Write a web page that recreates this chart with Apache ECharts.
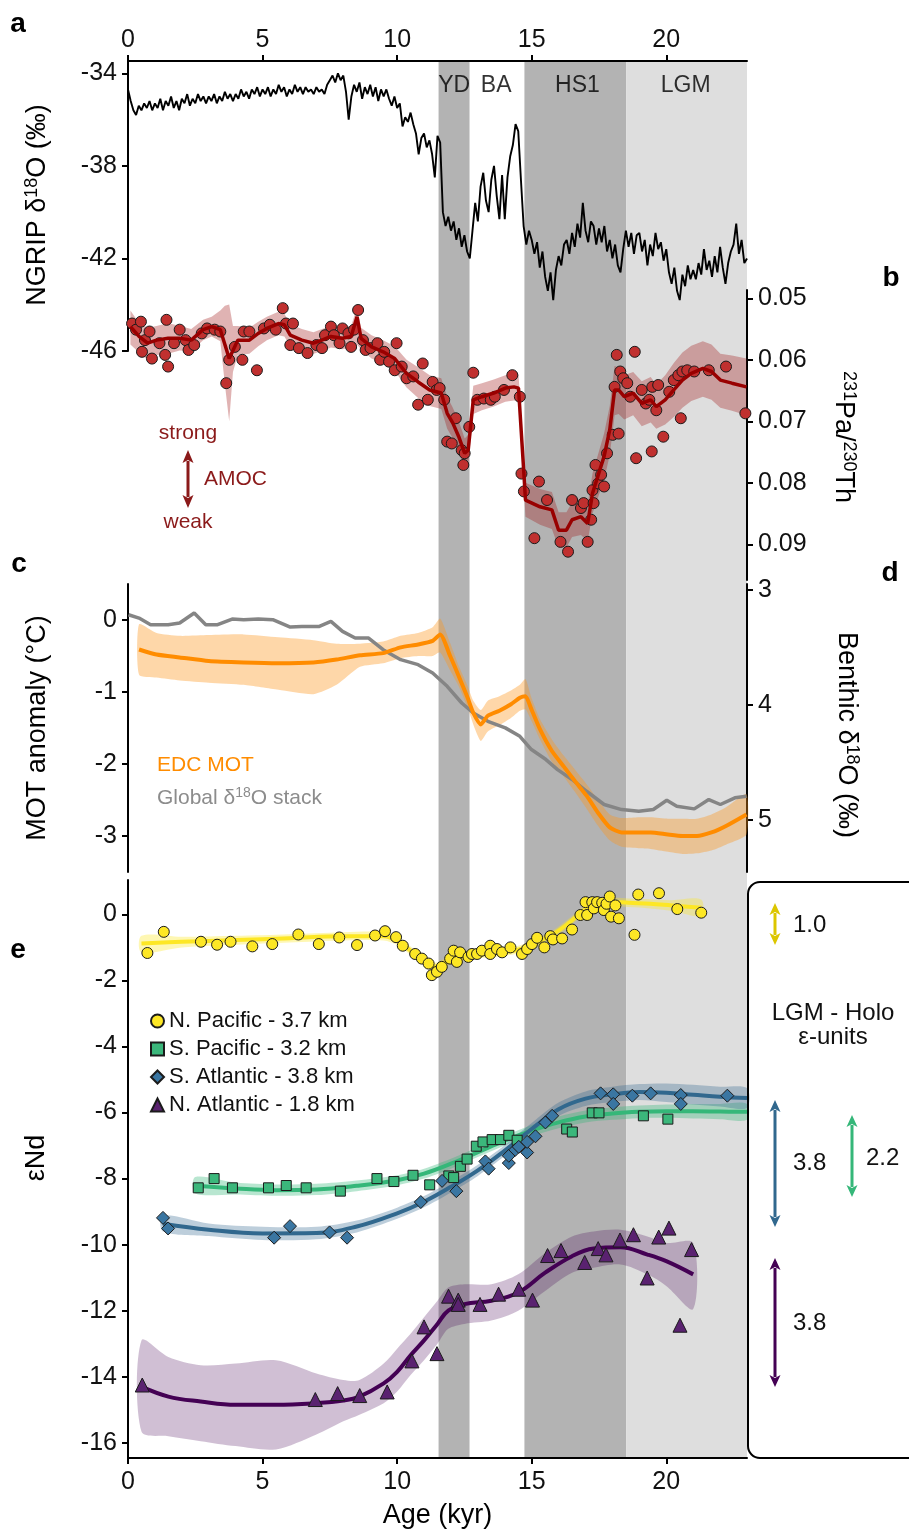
<!DOCTYPE html>
<html><head><meta charset="utf-8">
<script src="https://cdn.jsdelivr.net/npm/echarts@6/dist/echarts.min.js"></script>
<style>html,body{margin:0;padding:0;background:#fff}#c{width:909px;height:1534px}</style>
</head><body><div id="c"></div>
<script>
// ---------------- DATA ----------------
const xTicks = [0, 5, 10, 15, 20];
const ngripTicks = [-46, -42, -38, -34];
const paThTicks = [0.05, 0.06, 0.07, 0.08, 0.09];
const motTicks = [-3, -2, -1, 0];
const benthicTicks = [3, 4, 5];
const endTicks = [-16, -14, -12, -10, -8, -6, -4, -2, 0];

const zoneNames = ['YD', 'HS1', 'LGM'];
const zoneStart = [11.54, 14.73, 18.51];
const zoneEnd = [12.69, 18.51, 23.0];
const zoneLabelText = ['YD', 'BA', 'HS1', 'LGM'];
const zoneLabelAge = [12.12, 13.68, 16.70, 20.72];

// NGRIP d18O, sampled every 0.1 kyr from 0 kyr
const ngripStart = 0, ngripStep = 0.1;
const ngripVal = [
 -34.7,-35.2,-35.6,-35.8,-35.4,-35.6,-35.3,-35.5,-35.2,-35.6,
 -35.3,-35.5,-35.1,-35.6,-35.2,-35.4,-35.0,-35.5,-35.2,-35.6,
 -35.1,-35.3,-34.9,-35.4,-35.1,-35.3,-34.9,-35.2,-35.0,-35.3,
 -35.0,-35.2,-34.9,-35.3,-35.0,-35.2,-34.8,-35.1,-34.9,-35.2,
 -34.9,-35.1,-34.7,-35.0,-34.8,-35.1,-34.7,-34.9,-34.6,-35.0,
 -34.7,-34.9,-34.6,-35.0,-34.7,-34.9,-34.5,-34.8,-34.6,-35.0,
 -34.7,-34.9,-34.5,-34.8,-34.6,-34.9,-34.6,-34.8,-34.7,-34.9,
 -34.6,-34.8,-34.7,-34.9,-34.5,-34.3,-34.1,-34.4,-34.0,-34.3,
 -34.1,-34.8,-36.0,-35.0,-34.5,-34.8,-34.4,-35.1,-34.6,-34.9,
 -34.5,-35.0,-34.6,-35.2,-34.7,-35.0,-34.7,-35.1,-35.4,-35.0,
 -35.5,-35.3,-36.3,-35.9,-36.1,-35.7,-36.2,-36.6,-37.5,-36.8,
 -36.6,-37.2,-36.9,-37.5,-38.5,-36.7,-37.0,-40.0,-40.6,-40.2,
 -40.8,-40.4,-41.2,-40.7,-41.5,-41.0,-41.7,-42.0,-40.8,-39.6,
 -40.4,-38.9,-38.3,-39.5,-40.0,-38.6,-38.0,-39.3,-40.3,-38.4,
 -40.3,-38.5,-37.6,-37.1,-36.2,-36.5,-38.6,-40.6,-41.4,-40.8,
 -41.2,-41.8,-41.3,-42.4,-41.7,-42.8,-43.4,-42.6,-43.8,-42.5,
 -41.9,-42.3,-41.4,-41.2,-41.8,-40.9,-41.5,-40.5,-41.1,-39.6,
 -40.8,-41.3,-40.4,-40.6,-41.4,-40.7,-41.3,-40.6,-41.7,-41.2,
 -42.0,-41.4,-42.3,-42.6,-41.6,-40.8,-41.5,-40.9,-41.8,-41.0,
 -40.9,-41.7,-41.2,-42.3,-41.4,-41.9,-40.9,-41.6,-41.3,-42.1,
 -41.6,-42.6,-43.1,-42.4,-43.4,-43.8,-42.7,-43.2,-42.3,-42.9,
 -42.5,-42.9,-42.2,-42.7,-41.6,-42.5,-42.1,-42.8,-41.9,-42.6,
 -41.5,-42.4,-43.1,-42.2,-41.7,-41.4,-40.5,-41.8,-41.2,-42.2,
 -42.0];

// 231Pa/230Th measurements
const paAge = [0.15,0.30,0.48,0.52,0.63,0.80,0.89,1.17,1.38,1.43,1.49,1.71,1.92,2.14,2.25,2.46,2.74,2.94,3.22,3.43,3.65,3.76,3.97,4.25,4.30,4.51,4.79,5.05,5.27,5.49,5.75,5.87,6.03,6.13,6.35,6.67,7.00,7.21,7.32,7.54,7.65,7.86,7.97,8.19,8.29,8.40,8.55,8.73,8.83,9.01,9.27,9.37,9.52,9.70,9.91,9.98,10.17,10.35,10.60,10.78,10.95,11.14,11.32,11.47,11.58,11.75,11.86,12.03,12.18,12.40,12.46,12.51,12.68,12.83,12.98,13.22,13.48,13.63,13.97,14.28,14.56,14.62,14.71,15.10,15.27,15.57,16.07,16.35,16.50,16.83,16.93,17.08,17.21,17.26,17.30,17.37,17.47,17.58,17.69,17.80,18.01,18.08,18.16,18.23,18.29,18.40,18.55,18.66,18.83,18.88,19.09,19.24,19.37,19.46,19.48,19.63,19.70,19.89,20.11,20.28,20.45,20.54,20.60,20.78,21.04,21.58,22.22,22.94];
const paVal = [0.0541,0.0551,0.0538,0.0587,0.0568,0.0554,0.0598,0.0573,0.0592,0.0535,0.0611,0.0573,0.0551,0.0568,0.0584,0.0576,0.0557,0.0549,0.0551,0.0554,0.0638,0.0600,0.0579,0.0600,0.0554,0.0554,0.0617,0.0549,0.0543,0.0551,0.0516,0.0541,0.0576,0.0541,0.0581,0.0589,0.0576,0.0581,0.0560,0.0546,0.0560,0.0573,0.0549,0.0557,0.0579,0.0551,0.0519,0.0568,0.0584,0.0581,0.0573,0.0600,0.0587,0.0603,0.0617,0.0573,0.0611,0.0630,0.0627,0.0673,0.0606,0.0665,0.0636,0.0649,0.0646,0.0665,0.0733,0.0736,0.0695,0.0747,0.0771,0.0752,0.0709,0.0621,0.0665,0.0663,0.0665,0.0660,0.0649,0.0625,0.0660,0.0785,0.0814,0.0890,0.0798,0.0828,0.0896,0.0912,0.0828,0.0841,0.0833,0.0896,0.0860,0.0812,0.0833,0.0771,0.0801,0.0787,0.0806,0.0752,0.0722,0.0644,0.0592,0.0720,0.0619,0.0630,0.0638,0.0660,0.0587,0.0760,0.0649,0.0671,0.0665,0.0749,0.0644,0.0682,0.0641,0.0725,0.0652,0.0633,0.0625,0.0695,0.0619,0.0617,0.0619,0.0617,0.0611,0.0687];
// Pa/Th smoothed curve and envelope
const paLineAge = [0.09,0.41,0.73,1.06,1.49,1.92,2.35,2.79,3.11,3.43,3.60,3.76,3.90,4.08,4.51,4.84,5.16,5.59,5.81,6.03,6.46,6.89,7.21,7.54,7.97,8.29,8.51,8.66,9.05,9.48,9.91,10.35,10.78,11.21,11.64,11.86,12.07,12.29,12.51,12.64,12.83,13.15,13.59,14.02,14.34,14.51,14.67,14.77,15.31,15.75,16.00,16.29,16.50,16.83,17.08,17.26,17.69,17.90,18.08,18.23,18.44,18.77,19.09,19.42,19.63,19.96,20.28,20.60,20.93,21.36,21.68,22.01,22.44,22.98];
const paLineVal = [0.0546,0.0562,0.0573,0.0568,0.0565,0.0565,0.0568,0.0551,0.0546,0.0551,0.0575,0.0598,0.0585,0.0568,0.0568,0.0557,0.0549,0.0541,0.0543,0.0560,0.0568,0.0573,0.0568,0.0562,0.0565,0.0562,0.0530,0.0565,0.0579,0.0587,0.0598,0.0622,0.0636,0.0649,0.0654,0.0687,0.0703,0.0725,0.0752,0.0747,0.0665,0.0660,0.0654,0.0646,0.0644,0.0646,0.0757,0.0828,0.0839,0.0844,0.0877,0.0877,0.0860,0.0855,0.0866,0.0817,0.0757,0.0714,0.0649,0.0649,0.0660,0.0654,0.0671,0.0665,0.0676,0.0665,0.0649,0.0633,0.0622,0.0614,0.0619,0.0633,0.0638,0.0644];
const paBandLo = [0.0520,0.0540,0.0548,0.0545,0.0540,0.0545,0.0550,0.0535,0.0530,0.0520,0.0512,0.0510,0.0545,0.0545,0.0548,0.0538,0.0530,0.0522,0.0525,0.0542,0.0550,0.0555,0.0550,0.0545,0.0547,0.0545,0.0515,0.0548,0.0560,0.0568,0.0578,0.0600,0.0612,0.0625,0.0630,0.0660,0.0678,0.0700,0.0728,0.0722,0.0642,0.0638,0.0632,0.0625,0.0622,0.0624,0.0730,0.0800,0.0810,0.0815,0.0848,0.0848,0.0832,0.0825,0.0835,0.0785,0.0720,0.0675,0.0610,0.0612,0.0625,0.0620,0.0635,0.0628,0.0640,0.0625,0.0605,0.0588,0.0577,0.0570,0.0575,0.0590,0.0593,0.0598];
const paBandHi = [0.0575,0.0588,0.0600,0.0592,0.0590,0.0585,0.0586,0.0568,0.0562,0.0570,0.0640,0.0700,0.0620,0.0592,0.0590,0.0578,0.0568,0.0560,0.0562,0.0578,0.0586,0.0590,0.0586,0.0580,0.0583,0.0580,0.0575,0.0583,0.0598,0.0606,0.0618,0.0645,0.0662,0.0675,0.0680,0.0712,0.0728,0.0750,0.0776,0.0770,0.0688,0.0682,0.0676,0.0668,0.0666,0.0668,0.0785,0.0855,0.0868,0.0875,0.0905,0.0905,0.0888,0.0885,0.0895,0.0850,0.0795,0.0755,0.0690,0.0688,0.0697,0.0690,0.0708,0.0702,0.0712,0.0705,0.0693,0.0678,0.0667,0.0660,0.0665,0.0678,0.0683,0.0690];

// EDC mean ocean temperature (MOT) and envelope
const motAge = [0.41,1.06,1.92,3.00,4.30,5.59,6.89,7.75,8.62,9.48,10.13,10.78,11.32,11.60,11.97,12.29,12.62,12.83,13.11,13.37,13.80,14.23,14.56,14.77,14.99,15.31,15.75,16.18,16.61,17.04,17.47,17.90,18.34,18.98,19.42,20.06,20.60,21.14,21.68,22.22,22.98];
const motVal = [-0.41,-0.48,-0.52,-0.57,-0.59,-0.60,-0.59,-0.55,-0.49,-0.46,-0.38,-0.34,-0.29,-0.20,-0.50,-0.78,-1.08,-1.29,-1.45,-1.33,-1.26,-1.17,-1.08,-1.06,-1.24,-1.52,-1.82,-2.03,-2.24,-2.44,-2.68,-2.88,-2.95,-2.95,-2.95,-2.98,-3.00,-3.00,-2.95,-2.86,-2.70];
const motLo = [-0.76,-0.80,-0.84,-0.87,-0.90,-0.97,-1.03,-0.90,-0.65,-0.60,-0.53,-0.50,-0.50,-0.45,-0.70,-0.92,-1.22,-1.45,-1.68,-1.55,-1.46,-1.36,-1.26,-1.24,-1.40,-1.66,-1.97,-2.17,-2.39,-2.62,-2.86,-3.06,-3.15,-3.17,-3.18,-3.22,-3.25,-3.24,-3.20,-3.12,-2.98];
const motHi = [-0.06,-0.18,-0.22,-0.21,-0.20,-0.24,-0.28,-0.33,-0.33,-0.30,-0.22,-0.18,-0.10,0.02,-0.32,-0.64,-0.92,-1.12,-1.25,-1.12,-1.06,-0.98,-0.90,-0.82,-1.08,-1.38,-1.66,-1.88,-2.08,-2.28,-2.50,-2.70,-2.75,-2.74,-2.74,-2.76,-2.76,-2.76,-2.70,-2.60,-2.42];

// Global benthic d18O stack
const benthicAge = [0.02,0.41,0.84,1.49,1.92,2.46,2.89,3.33,3.87,4.30,4.84,5.38,6.03,6.46,7.11,7.54,7.97,8.44,8.94,9.48,10.13,10.78,11.32,11.86,12.40,12.83,13.37,14.02,14.56,14.99,15.53,15.96,16.50,17.04,17.69,18.34,18.98,19.52,20.02,20.39,21.04,21.58,22.01,22.55,22.98];
const benthicVal = [3.217,3.246,3.303,3.303,3.289,3.202,3.303,3.303,3.254,3.260,3.254,3.260,3.324,3.318,3.318,3.275,3.361,3.419,3.419,3.520,3.607,3.650,3.723,3.838,3.983,4.069,4.142,4.199,4.272,4.387,4.474,4.561,4.647,4.749,4.864,4.908,4.922,4.908,4.827,4.879,4.902,4.821,4.864,4.806,4.792];

// eNd: N. Pacific 3.7 km
const npAge = [0.72,1.33,2.71,3.31,3.81,4.62,5.36,6.33,7.09,7.85,8.51,9.18,9.55,9.96,10.21,10.67,10.92,11.17,11.29,11.48,11.66,11.97,12.10,12.22,12.34,12.65,12.78,12.97,13.15,13.46,13.46,13.71,13.90,14.21,14.64,14.83,15.01,15.20,15.47,15.69,15.79,16.13,16.50,16.81,17.00,17.06,17.25,17.31,17.43,17.62,17.68,17.78,17.90,17.95,18.11,18.24,18.82,18.96,19.73,20.41,21.30];
const npVal = [-1.17,-0.53,-0.83,-0.92,-0.83,-0.97,-0.90,-0.61,-0.90,-0.70,-0.93,-0.64,-0.51,-0.69,-0.95,-1.20,-1.34,-1.49,-1.84,-1.74,-1.59,-1.34,-1.10,-1.44,-1.15,-1.29,-1.20,-1.20,-1.10,-0.95,-1.20,-1.05,-1.15,-1.00,-1.20,-1.05,-0.90,-0.71,-1.00,-0.66,-0.76,-0.73,-0.46,-0.02,0.37,-0.02,0.37,0.18,0.37,0.35,0.13,0.32,0.54,-0.07,0.27,-0.12,-0.62,0.60,0.64,0.16,0.05];
const npFitAge = [0.5,2,4,6,8,9.5,10,10.5,11,11.4,11.8,12.3,13,14,14.6,15.2,15.8,16.4,16.9,17.4,18,18.6,19.4,20.2,21.3];
const npFit = [-0.88,-0.83,-0.78,-0.72,-0.66,-0.66,-0.80,-1.10,-1.40,-1.58,-1.45,-1.30,-1.22,-1.14,-1.05,-0.85,-0.60,-0.25,0.10,0.30,0.38,0.35,0.32,0.27,0.20];
const npLo = [-1.15,-1.00,-0.92,-0.85,-0.79,-0.79,-0.93,-1.23,-1.52,-1.70,-1.57,-1.42,-1.33,-1.25,-1.17,-0.97,-0.72,-0.38,-0.03,0.17,0.25,0.22,0.18,0.11,-0.05];
const npHi = [-0.65,-0.68,-0.65,-0.60,-0.54,-0.53,-0.67,-0.97,-1.27,-1.46,-1.33,-1.19,-1.11,-1.03,-0.93,-0.73,-0.48,-0.12,0.23,0.43,0.50,0.48,0.46,0.43,0.45];

// eNd: S. Pacific 3.2 km
const spAge = [2.61,3.20,3.88,5.22,5.88,6.62,7.89,9.25,9.88,10.59,11.21,11.92,12.10,12.35,12.60,12.94,13.19,13.53,13.84,14.15,14.46,16.30,16.51,17.25,17.50,19.15,20.06];
const spVal = [-8.28,-8.00,-8.28,-8.28,-8.21,-8.28,-8.38,-8.00,-8.09,-7.90,-8.19,-7.92,-7.97,-7.63,-7.41,-7.02,-6.89,-6.82,-6.82,-6.69,-6.84,-6.50,-6.59,-6.01,-6.01,-6.10,-6.20];
const spFitAge = [2.5,4,5.5,7,8.5,10,11,12,13,14,15,16,17,18,19,20,21,22,23];
const spFit = [-8.22,-8.30,-8.35,-8.33,-8.22,-8.05,-7.85,-7.55,-7.20,-6.85,-6.55,-6.30,-6.12,-6.03,-5.98,-5.96,-5.96,-5.97,-5.98];
const spLo = [-8.45,-8.48,-8.52,-8.50,-8.38,-8.20,-8.00,-7.70,-7.35,-7.00,-6.72,-6.48,-6.30,-6.22,-6.17,-6.16,-6.18,-6.20,-6.22];
const spHi = [-7.95,-8.12,-8.18,-8.16,-8.06,-7.90,-7.70,-7.40,-7.05,-6.70,-6.38,-6.12,-5.94,-5.84,-5.79,-5.76,-5.74,-5.74,-5.74];

// eNd: S. Atlantic 3.8 km
const saAge = [1.30,1.49,5.43,6.02,7.49,8.14,10.88,11.67,12.20,13.28,13.40,14.15,14.15,14.39,14.52,14.83,14.83,15.14,15.51,15.76,17.56,18.03,18.03,18.74,19.42,20.54,20.54,22.27];
const saVal = [-9.19,-9.51,-9.79,-9.44,-9.63,-9.79,-8.71,-8.07,-8.38,-7.48,-7.70,-7.53,-7.31,-7.13,-7.04,-7.21,-6.89,-6.72,-6.30,-6.10,-5.42,-5.45,-5.74,-5.49,-5.42,-5.47,-5.74,-5.49];
const saFitAge = [1.3,3,5,7,8.5,10,11,12,13,14,15,16,17,18,19,20,21,22,23];
const saFit = [-9.37,-9.55,-9.66,-9.65,-9.45,-9.05,-8.70,-8.25,-7.75,-7.15,-6.50,-5.90,-5.58,-5.45,-5.38,-5.40,-5.46,-5.52,-5.56];
const saLo = [-9.60,-9.74,-9.86,-9.84,-9.63,-9.22,-8.87,-8.42,-7.92,-7.32,-6.68,-6.10,-5.80,-5.68,-5.62,-5.68,-5.76,-5.82,-5.86];
const saHi = [-9.12,-9.36,-9.46,-9.46,-9.27,-8.88,-8.53,-8.08,-7.58,-6.98,-6.32,-5.70,-5.36,-5.22,-5.14,-5.12,-5.16,-5.22,-5.26];

// eNd: N. Atlantic 1.8 km
const naAge = [0.53,6.96,7.79,8.61,9.63,10.55,11.00,11.48,11.91,12.27,12.27,13.08,13.77,14.52,15.03,15.59,16.09,16.97,17.47,17.76,18.28,18.78,19.29,19.72,20.10,20.51,20.94];
const naVal = [-14.25,-14.69,-14.51,-14.57,-14.46,-13.52,-12.49,-13.30,-11.56,-11.68,-11.81,-11.81,-11.50,-11.35,-11.68,-10.33,-10.18,-10.54,-10.12,-10.31,-9.86,-9.70,-11.01,-9.77,-9.50,-12.44,-10.15];
const naFitAge = [0.5,1.5,2.7,4,5.5,7,8,8.6,9.5,10,10.5,11,11.5,11.9,12.5,13.5,14.5,15.5,16.5,17.3,18.3,19.3,20,21];
const naFit = [-14.30,-14.60,-14.75,-14.85,-14.85,-14.80,-14.72,-14.60,-14.20,-13.85,-13.35,-12.90,-12.40,-12.00,-11.80,-11.70,-11.45,-10.85,-10.35,-10.12,-10.08,-10.30,-10.50,-10.90];
const naLo = [-15.66,-15.80,-15.95,-16.10,-16.20,-15.75,-15.35,-15.15,-14.80,-14.45,-13.95,-13.50,-13.00,-12.55,-12.40,-12.30,-12.00,-11.40,-10.85,-10.70,-10.60,-10.90,-11.25,-11.95];
const naHi = [-12.90,-13.40,-13.65,-13.60,-13.50,-13.90,-14.10,-14.10,-13.60,-13.15,-12.70,-12.20,-11.70,-11.30,-11.20,-11.20,-10.90,-10.25,-9.75,-9.60,-9.55,-9.75,-9.95,-9.95];

const legendNames = ['N. Pacific - 3.7 km', 'S. Pacific - 3.2 km', 'S. Atlantic - 3.8 km', 'N. Atlantic - 1.8 km'];

// ---------------- CHART ----------------
const FONT = '"Liberation Sans", Arial, Helvetica, sans-serif';
const GL = 128, GW = 619;
const TICK_FS = 25;
const zip = (a, b) => a.map((v, i) => [v, b[i]]);

function yAx(grid, pos, min, max, ticks, inverse, fmt) {
  return {
    type: 'value', gridIndex: grid, position: pos, min: min, max: max, inverse: !!inverse,
    axisLine: { show: true, onZero: false, lineStyle: { color: '#000', width: 2 } },
    axisTick: { show: true, inside: false, length: 6, customValues: ticks, lineStyle: { color: '#000', width: 2 } },
    axisLabel: { show: true, customValues: ticks, fontSize: TICK_FS, color: '#111', fontFamily: FONT, margin: 11,
      formatter: fmt || (v => String(v)) },
    splitLine: { show: false }
  };
}
function hiddenX(grid) { return { type: 'value', gridIndex: grid, min: 0, max: 23, show: false, axisLine: { onZero: false } }; }

function band(xi, yi, ages, lo, hi, color, smooth) {
  const rows = ages.map((a, i) => [a, lo[i], hi[i]]);
  return {
    type: 'custom', xAxisIndex: xi, yAxisIndex: yi, silent: true, z: 2,
    data: rows, encode: { x: 0, y: [1, 2] },
    renderItem: function (params, api) {
      if (params.dataIndex !== 0) return null;
      const up = rows.map(r => api.coord([r[0], r[2]]));
      const dn = rows.map(r => api.coord([r[0], r[1]])).reverse();
      return { type: 'polygon', shape: { points: up.concat(dn), smooth: smooth || 0 }, style: { fill: color } };
    }
  };
}
function line(xi, yi, ages, vals, color, width, smooth, z) {
  return { type: 'line', xAxisIndex: xi, yAxisIndex: yi, data: zip(ages, vals), showSymbol: false, silent: true,
    smooth: smooth || false, z: z || 3, lineStyle: { color: color, width: width }, itemStyle: { color: color } };
}
function pts(name, xi, yi, ages, vals, symbol, size, fill) {
  return { name: name, type: 'scatter', xAxisIndex: xi, yAxisIndex: yi, data: zip(ages, vals), symbol: symbol,
    symbolSize: size, z: 5, silent: true, itemStyle: { color: fill, borderColor: '#1b1b1b', borderWidth: 1, opacity: 1 } };
}
function dblArrow(x, y1, y2, color, lw, hw, hl) {
  return [
    { type: 'line', shape: { x1: x, y1: y1 + hl - 2, x2: x, y2: y2 - hl + 2 }, style: { stroke: color, lineWidth: lw } },
    { type: 'polygon', shape: { points: [[x, y1], [x - hw / 2, y1 + hl], [x, y1 + hl - 3], [x + hw / 2, y1 + hl]] }, style: { fill: color } },
    { type: 'polygon', shape: { points: [[x, y2], [x - hw / 2, y2 - hl], [x, y2 - hl + 3], [x + hw / 2, y2 - hl]] }, style: { fill: color } }
  ];
}
function txt(x, y, text, size, color, opts) {
  const o = opts || {};
  return { type: 'text', x: x, y: y, rotation: o.rot || 0, z: 20,
    style: { text: text, fill: color, fontSize: size, fontFamily: FONT, fontWeight: o.bold ? 'bold' : 'normal',
      align: o.align || 'center', verticalAlign: 'middle', rich: o.rich } };
}
function supRich(size, color) {
  return { a: { fontSize: size, fontFamily: FONT, fill: color, color: color },
           s: { fontSize: Math.round(size * 0.66), fontFamily: FONT, color: color, padding: [0, 0, Math.round(size * 0.45), 0] } };
}

const zoneShade = { YD: '#b3b3b3', HS1: '#b3b3b3', LGM: '#dedede' };
const zoneRows = zoneNames.map((n, i) => [zoneStart[i], zoneEnd[i], i]);

const graphic = [
  txt(18, 24, 'a', 28, '#000', { bold: true }),
  txt(891, 278, 'b', 28, '#000', { bold: true }),
  txt(19, 564, 'c', 28, '#000', { bold: true }),
  txt(890, 573, 'd', 28, '#000', { bold: true }),
  txt(18, 950, 'e', 28, '#000', { bold: true }),
  txt(38, 205, '{a|NGRIP δ}{s|18}{a|O (‰)}', 27, '#000', { rot: Math.PI / 2, rich: supRich(27, '#000') }),
  txt(843, 437, '{s|231}{a|Pa/}{s|230}{a|Th}', 27, '#000', { rot: -Math.PI / 2, rich: supRich(27, '#000') }),
  txt(38, 728, 'MOT anomaly (°C)', 27, '#000', { rot: Math.PI / 2 }),
  txt(846, 735, '{a|Benthic δ}{s|18}{a|O (‰)}', 27, '#000', { rot: -Math.PI / 2, rich: supRich(27, '#000') }),
  txt(37, 1158, 'εNd', 27, '#000', { rot: Math.PI / 2 }),
  txt(188, 433, 'strong', 21, '#8b1a1a'),
  txt(188, 522, 'weak', 21, '#8b1a1a'),
  txt(204, 479, 'AMOC', 21, '#8b1a1a', { align: 'left' }),
  txt(157, 765, 'EDC MOT', 21, '#ff8c00', { align: 'left' }),
  txt(157, 798, '{a|Global δ}{s|18}{a|O stack}', 21, '#8c8c8c', { align: 'left', rich: supRich(21, '#8c8c8c') }),
  { type: 'rect', z: 20, shape: { x: 748, y: 882, width: 200, height: 576, r: 12 }, style: { fill: 'none', stroke: '#000', lineWidth: 2 } },
  txt(793, 925, '1.0', 24, '#111', { align: 'left' }),
  txt(833, 1013, 'LGM - Holo', 24, '#111'),
  txt(833, 1037, 'ε-units', 24, '#111'),
  txt(793, 1163, '3.8', 24, '#111', { align: 'left' }),
  txt(866, 1158, '2.2', 24, '#111', { align: 'left' }),
  txt(793, 1323, '3.8', 24, '#111', { align: 'left' })
].concat(
  dblArrow(188, 450, 508, '#8b1a1a', 3, 11, 13),
  dblArrow(775, 903, 945, '#dcc600', 3, 11, 12),
  dblArrow(775, 1100, 1227, '#31688e', 3, 11, 12),
  dblArrow(852, 1115, 1197, '#35b779', 3, 11, 12),
  dblArrow(775, 1258, 1387, '#440154', 3, 11, 12)
).map(g => Object.assign({ z: 20 }, g));

const option = {
  animation: false,
  backgroundColor: '#fff',
  textStyle: { fontFamily: FONT },
  grid: [
    { left: GL, top: 61, width: GW, height: 290 },
    { left: GL, top: 290, width: GW, height: 290 },
    { left: GL, top: 584, width: GW, height: 288 },
    { left: GL, top: 880, width: GW, height: 578 },
    { left: GL, top: 61, width: GW, height: 1397 }
  ],
  xAxis: [
    { type: 'value', gridIndex: 0, position: 'top', min: 0, max: 23,
      axisLine: { show: true, onZero: false, lineStyle: { color: '#000', width: 2 } },
      axisTick: { show: true, length: 6, customValues: xTicks, lineStyle: { color: '#000', width: 2 } },
      axisLabel: { customValues: xTicks, fontSize: TICK_FS, color: '#111', fontFamily: FONT, margin: 8 },
      splitLine: { show: false } },
    hiddenX(1), hiddenX(2),
    { type: 'value', gridIndex: 3, position: 'bottom', min: 0, max: 23,
      name: 'Age (kyr)', nameLocation: 'middle', nameGap: 44,
      nameTextStyle: { fontSize: 27, color: '#000', fontFamily: FONT },
      axisLine: { show: true, onZero: false, lineStyle: { color: '#000', width: 2 } },
      axisTick: { show: true, length: 6, customValues: xTicks, lineStyle: { color: '#000', width: 2 } },
      axisLabel: { customValues: xTicks, fontSize: TICK_FS, color: '#111', fontFamily: FONT, margin: 12 },
      splitLine: { show: false } },
    hiddenX(4)
  ],
  yAxis: [
    yAx(0, 'left', -46, -33.47, ngripTicks, false),
    yAx(1, 'right', 0.04865, 0.0958, paThTicks, true, v => v.toFixed(2)),
    yAx(2, 'left', -3.5, 0.5, motTicks, false),
    yAx(2, 'right', 2.95, 5.45, benthicTicks, true),
    yAx(3, 'left', -16.46, 1.04, endTicks, false),
    { type: 'value', gridIndex: 4, min: 0, max: 1, show: false, axisLine: { onZero: false } }
  ],
  legend: {
    orient: 'vertical', left: 145, top: 1005, itemWidth: 13, itemHeight: 13, itemGap: 6, selectedMode: false,
    data: legendNames, textStyle: { fontSize: 22, color: '#111', fontFamily: FONT, lineHeight: 22 }
  },
  graphic: graphic,
  series: [
    { type: 'custom', xAxisIndex: 4, yAxisIndex: 5, silent: true, z: 0, data: zoneRows, encode: { x: [0, 1], y: 2 },
      renderItem: function (params, api) {
        const p1 = api.coord([api.value(0), 1]);
        const p2 = api.coord([api.value(1), 0]);
        return { type: 'rect', shape: { x: p1[0], y: p1[1], width: p2[0] - p1[0], height: p2[1] - p1[1] },
          style: { fill: zoneShade[zoneNames[params.dataIndex]] } };
      } },
    { type: 'scatter', xAxisIndex: 0, yAxisIndex: 0, silent: true, z: 6, symbolSize: 1,
      itemStyle: { color: 'rgba(0,0,0,0)' },
      data: zoneLabelAge.map(a => [a, -34.54]),
      label: { show: true, position: 'inside', fontSize: 23, color: '#000', fontFamily: FONT,
        formatter: p => zoneLabelText[p.dataIndex] } },
    line(0, 0, ngripVal.map((v, i) => ngripStart + i * ngripStep), ngripVal, '#000', 1.9, false, 4),
    band(1, 1, paLineAge, paBandLo, paBandHi, 'rgba(160,25,25,0.33)', 0),
    pts('PaTh', 1, 1, paAge, paVal, 'circle', 11, '#c0302f'),
    line(1, 1, paLineAge, paLineVal, '#990000', 3.5, false, 6),
    band(2, 2, motAge, motLo, motHi, 'rgba(252,150,30,0.38)', 0.2),
    line(2, 3, benthicAge, benthicVal, '#858585', 3.5, false, 3),
    line(2, 2, motAge, motVal, '#ff8c00', 4, 0.2, 4),
    band(3, 4, npFitAge, npLo, npHi, 'rgba(253,231,37,0.35)', 0.3),
    band(3, 4, spFitAge, spLo, spHi, 'rgba(53,183,121,0.35)', 0.3),
    band(3, 4, saFitAge, saLo, saHi, 'rgba(49,104,142,0.32)', 0.3),
    band(3, 4, naFitAge, naLo, naHi, 'rgba(68,1,84,0.25)', 0.3),
    line(3, 4, npFitAge, npFit, '#fde725', 4, 0.4),
    line(3, 4, spFitAge, spFit, '#35b779', 4, 0.4),
    line(3, 4, saFitAge, saFit, '#31688e', 4, 0.4),
    line(3, 4, naFitAge, naFit, '#440154', 4, 0.4),
    pts(legendNames[0], 3, 4, npAge, npVal, 'circle', 11, '#fde725'),
    pts(legendNames[1], 3, 4, spAge, spVal, 'rect', 10, '#3bb77b'),
    pts(legendNames[2], 3, 4, saAge, saVal, 'diamond', 13, '#3a76a2'),
    pts(legendNames[3], 3, 4, naAge, naVal, 'triangle', 14, '#5a2270')
  ]
};
const chart = echarts.init(document.getElementById('c'), null, { renderer: 'canvas' });
chart.setOption(option);
</script></body></html>
